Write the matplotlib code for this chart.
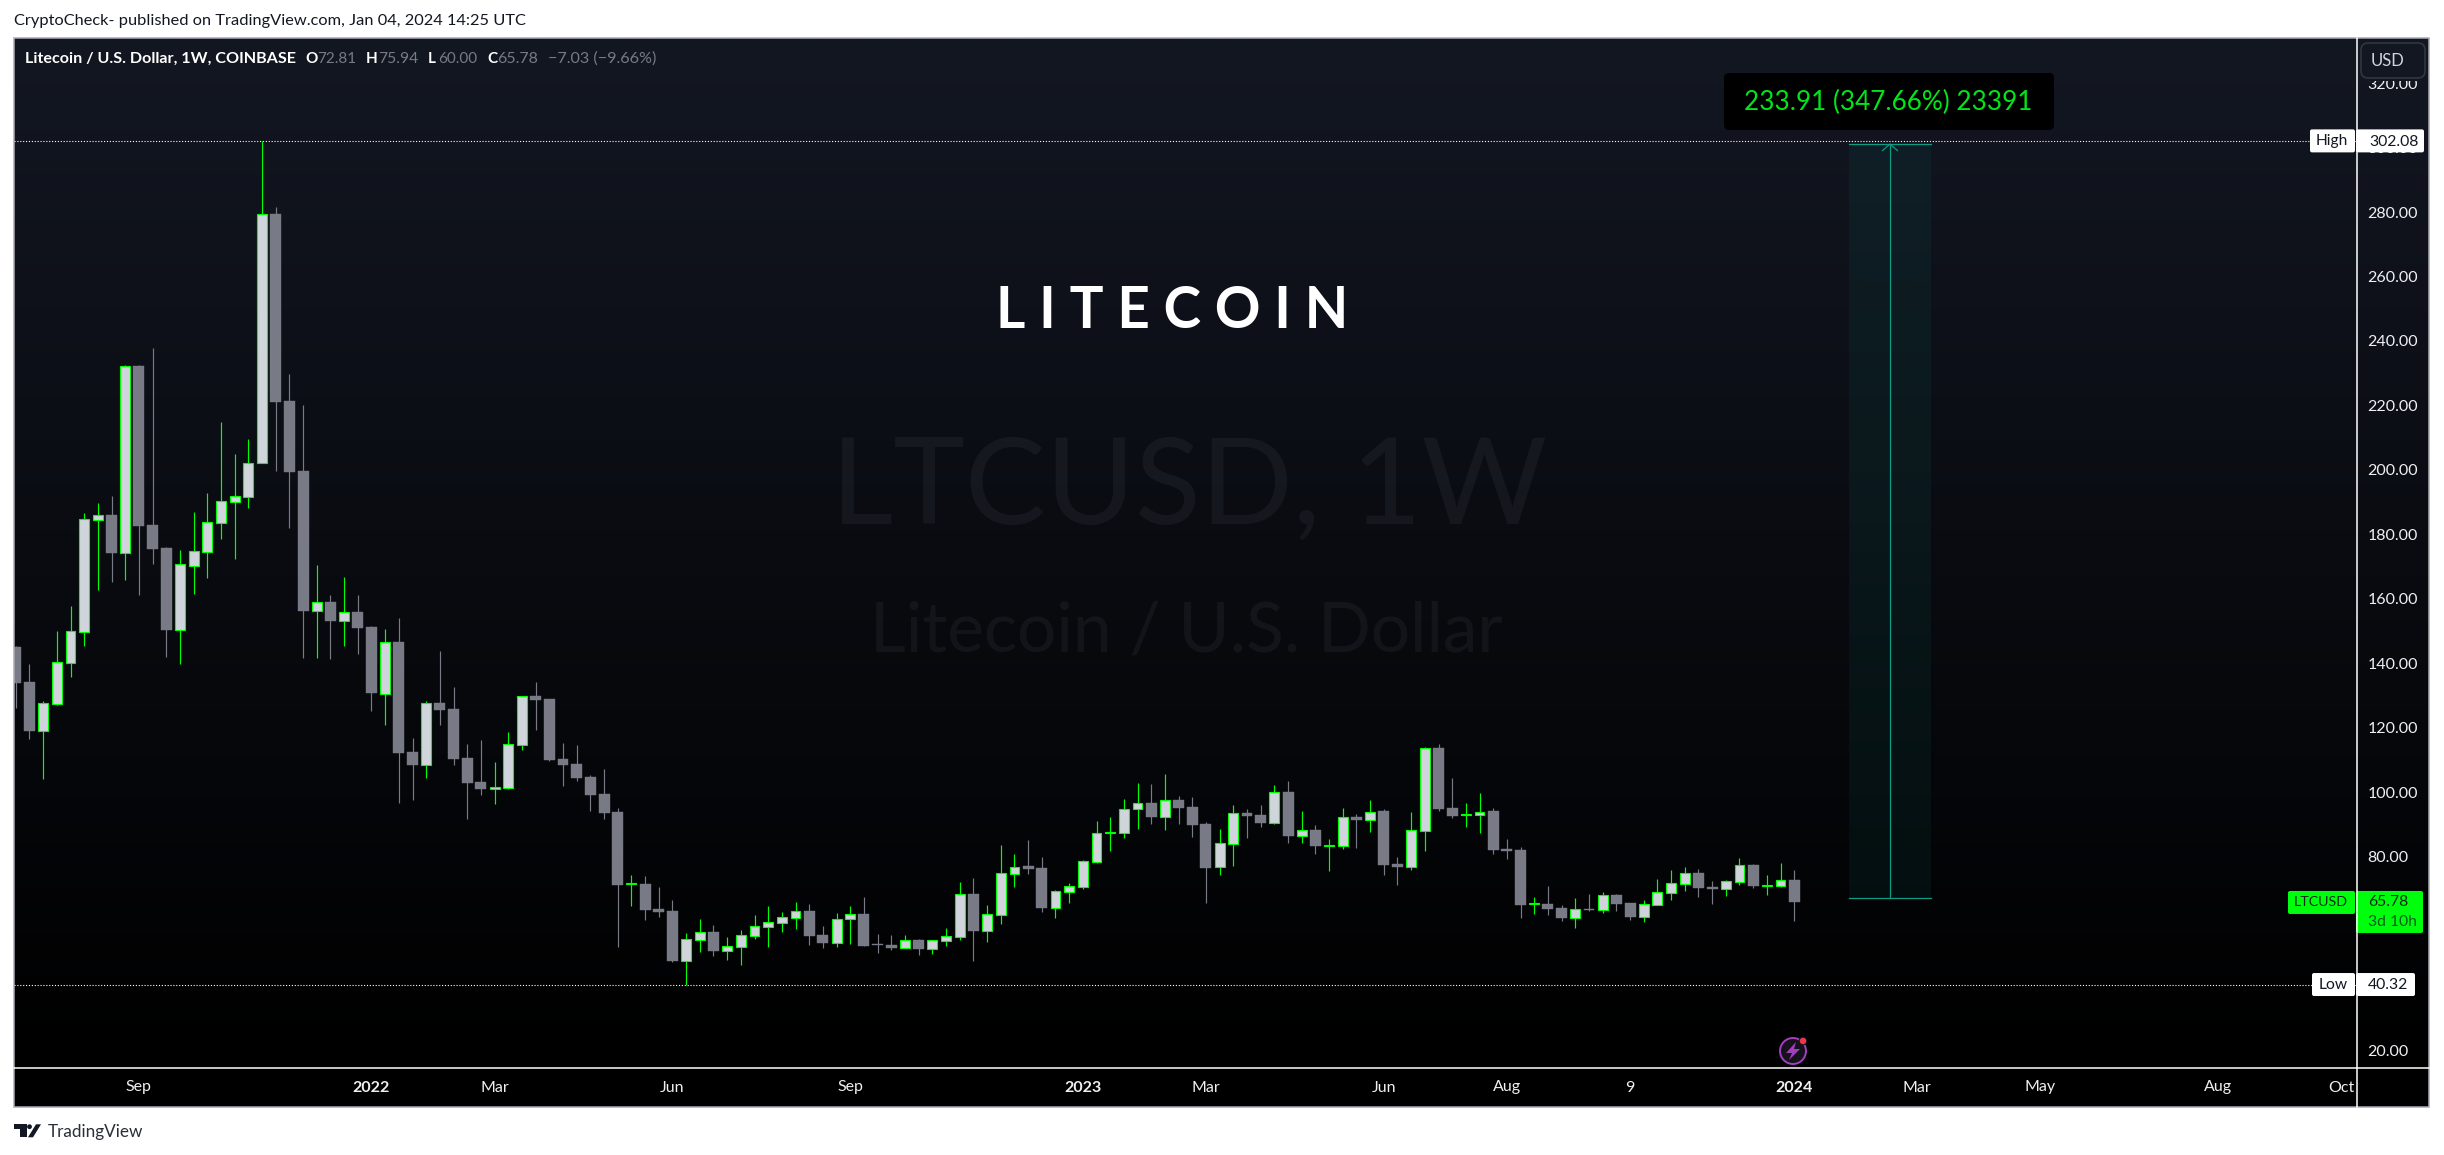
import numpy as np
import matplotlib
matplotlib.use("Agg")
import matplotlib.pyplot as plt
from matplotlib.colors import LinearSegmentedColormap
from matplotlib.patches import FancyBboxPatch, Polygon, Circle, Rectangle

# ---------- data: weekly LTC/USD candles ----------
opens = [145.0,134.2,119.1,127.5,140.2,149.6,184.6,186.0,174.3,232.2,182.9,175.8,150.4,170.3,174.6,183.6,190.1,191.7,202.0,279.3,
         221.4,199.65,156.3,159.0,153.2,155.9,151.2,130.6,146.6,112.5,108.5,127.7,125.8,110.6,103.2,101.1,101.4,114.7,129.8,128.9,
         110.3,108.7,104.7,99.4,93.8,71.5,71.5,63.7,63.1,47.6,54.2,56.6,50.7,52.1,55.5,58.3,59.5,61.1,63.1,55.7,
         53.3,60.7,62.2,52.9,52.6,51.7,54.1,51.4,53.9,55.2,68.4,57.0,62.0,74.7,77.1,76.5,64.2,69.1,70.7,78.4,
         87.4,87.4,94.9,96.6,92.4,97.6,95.4,90.1,76.9,84.0,93.5,92.9,90.5,100.0,86.4,88.3,83.3,83.4,92.3,91.5,
         94.1,77.7,76.9,88.1,113.7,95.1,93.0,93.0,94.1,82.4,82.1,65.4,65.3,64.1,61.0,63.7,63.5,68.1,65.6,61.4,
         65.1,68.8,71.6,74.9,70.6,70.1,72.2,77.4,71.0,71.0,72.81]
highs = [145.2,139.8,128.3,150.0,157.8,186.5,189.7,191.9,232.5,232.5,237.8,176.1,175.1,186.9,192.8,214.9,204.9,209.6,302.08,281.6,
         229.7,220.1,170.5,161.1,166.8,161.2,151.6,150.6,154.0,116.8,128.3,143.8,132.6,114.9,116.2,109.3,118.7,129.7,134.2,128.9,
         115.2,114.6,105.3,107.2,95.1,74.3,74.0,70.6,66.5,56.3,60.6,58.8,55.0,57.2,61.9,64.7,62.8,65.9,65.3,58.5,
         62.5,64.7,67.5,56.0,55.7,55.7,54.4,54.0,57.8,72.1,73.4,65.0,83.6,80.8,85.1,79.9,69.6,71.8,78.9,91.0,
         92.3,97.9,102.8,102.5,105.6,98.8,98.5,90.7,88.6,96.0,94.8,96.0,102.2,103.5,94.1,89.8,85.5,95.1,93.2,97.6,
         94.8,79.9,93.8,114.0,114.9,104.4,96.6,99.7,95.1,85.5,83.0,67.5,70.9,65.0,67.2,68.4,69.0,68.4,65.6,66.5,
         73.0,75.8,76.8,76.2,72.4,72.7,79.6,77.7,74.3,78.0,75.94]
lows = [126.2,116.6,104.2,127.0,135.8,145.4,162.7,165.3,165.9,161.2,170.9,142.0,139.9,161.6,166.6,178.7,172.5,188.3,202.0,199.8,
        182.0,141.7,141.7,141.4,145.5,143.0,125.2,120.8,96.7,97.6,104.4,120.8,108.4,91.7,99.1,96.3,101.1,113.1,119.3,109.7,
        101.9,103.5,94.1,91.7,51.9,64.7,60.3,61.3,47.3,40.32,50.4,49.2,47.9,46.4,54.4,51.9,56.6,57.5,52.6,51.6,
        51.9,52.9,52.3,50.1,51.0,51.7,49.5,49.8,52.3,54.1,47.6,53.5,59.1,70.6,74.6,62.8,61.0,65.6,69.9,78.0,
        81.7,85.8,88.6,90.1,88.3,90.1,86.1,65.6,74.3,77.1,85.8,89.2,90.1,84.2,84.2,80.8,75.5,82.4,82.7,87.6,
        74.3,71.2,75.8,81.7,94.2,92.0,89.2,87.3,80.8,79.3,61.0,62.2,61.9,60.0,57.9,63.1,62.5,63.1,60.3,59.7,
        65.1,66.5,69.3,67.5,65.3,67.8,71.2,70.3,68.1,70.6,60.00]
closes = [133.9,119.1,127.6,140.3,149.9,184.7,185.9,174.2,232.2,182.6,175.5,150.3,170.7,174.7,183.7,190.2,191.8,202.0,279.3,221.2,
          199.4,156.3,158.9,153.1,155.8,150.9,130.8,146.5,112.2,108.4,127.6,125.5,110.3,102.9,101.0,101.5,114.8,129.7,128.6,110.0,
          108.4,104.4,99.1,93.5,71.2,71.7,63.4,62.8,47.6,54.3,56.5,50.7,52.2,55.6,58.4,59.6,61.2,63.0,55.4,53.2,
          60.8,62.1,52.3,52.7,51.6,54.0,51.3,54.0,55.3,68.3,56.9,62.1,74.8,76.9,76.1,64.1,69.2,70.8,78.5,87.2,
          87.6,94.7,96.5,92.3,97.5,95.1,89.8,76.5,84.1,93.4,92.6,90.4,99.9,86.4,88.2,83.3,83.6,92.2,91.4,94.0,
          77.4,76.8,88.2,113.6,94.8,92.6,93.2,94.0,82.1,81.7,65.0,65.6,63.7,61.0,63.6,63.4,68.0,65.3,61.2,65.2,
          68.9,71.7,74.8,70.3,70.0,72.3,77.3,70.9,71.2,72.81,65.78]

price_ticks = list(range(20, 321, 20))
time_tick_pos = [9, 26, 35, 48, 61, 78, 87, 100, 109, 118, 130, 139, 148, 161, 170]
time_tick_lab = ["Sep", "2022", "Mar", "Jun", "Sep", "2023", "Mar", "Jun", "Aug", "9", "2024", "Mar", "May", "Aug", "Oct"]
bold_ticks = {"2022", "2023", "2024"}

all_time_high = 302.08
all_time_low = 40.32
last_close = 65.78
measure_from = 67.17
measure_to = 301.08
measure_left, measure_right = 134, 140

# ---------- layout ----------
W, H = 2444, 1155
FONT = "Lato"
UP_FACE, UP_EDGE, DOWN = "#d1d4dc", "#00ff00", "#787b86"
TEAL = "#0b9d86"

fig = plt.figure(figsize=(W / 100, H / 100), dpi=100, facecolor="white")
plt.rcParams["font.family"] = FONT

def frac_rect(x0, y0, x1, y1):
    return [x0 / W, 1 - y1 / H, (x1 - x0) / W, (y1 - y0) / H]

# background gradient of the panel
bg = fig.add_axes(frac_rect(14, 38, 2429, 1068), zorder=0)
cmap = LinearSegmentedColormap.from_list("tv", ["#131722", "#000000"])
bg.imshow(np.linspace(0, 1, 512)[:, None], aspect="auto", cmap=cmap, vmin=0, vmax=1)
bg.axis("off")
fig.patches.append(Rectangle((14 / W, 1 - 1107 / H), (2429 - 14) / W, 39 / H, transform=fig.transFigure,
                             facecolor="black", edgecolor="none", zorder=0))

# main chart
ax = fig.add_axes(frac_rect(14, 38, 2357, 1068), zorder=2)
ax.patch.set_visible(False)
ax.set_xlim(-0.132, 171.14)
ax.set_ylim(14.42, 334.0)
for s in ax.spines.values():
    s.set_visible(False)

x = np.arange(len(opens))
o, h, l, c = map(np.array, (opens, highs, lows, closes))
up = c >= o

ax.vlines(x[up], l[up], h[up], color=UP_EDGE, lw=0.85, zorder=3)
ax.vlines(x[~up], l[~up], h[~up], color=DOWN, lw=0.85, zorder=3)
ax.bar(x[~up], (o - c)[~up], bottom=c[~up], width=0.8, color=DOWN, edgecolor=DOWN, linewidth=0.3, zorder=4)
ax.bar(x[up], (c - o)[up], bottom=o[up], width=0.72, color=UP_FACE, edgecolor=UP_EDGE, linewidth=0.8, zorder=4)

# high / low dotted lines
for v in (all_time_high, all_time_low):
    ax.axhline(v, color="white", lw=0.8, ls=(0, (1, 1.6)), zorder=2)

# measure tool
ax.add_patch(Rectangle((measure_left, measure_from), measure_right - measure_left, measure_to - measure_from,
                       facecolor=TEAL, alpha=0.08, edgecolor="none", zorder=1))
mid = (measure_left + measure_right) / 2
ax.plot([mid, mid], [measure_from, measure_to], color=TEAL, lw=0.9, zorder=3)
ax.plot([measure_left, measure_right], [measure_to, measure_to], color=TEAL, lw=0.9, zorder=3)
ax.plot([measure_left, measure_right], [measure_from, measure_from], color=TEAL, lw=0.9, zorder=3)
ax.plot([mid - 0.55, mid, mid + 0.55], [measure_to - 2, measure_to, measure_to - 2], color=TEAL, lw=0.9, zorder=3)

# axes ticks
ax.yaxis.tick_right()
ax.set_yticks(price_ticks)
ax.set_yticklabels([f"{v:.2f}" for v in price_ticks], fontsize=11.5, color="#eef0f4", family=FONT)
ax.tick_params(axis="y", length=0, pad=7.5)
ax.set_xticks(time_tick_pos)
ax.set_xticklabels(time_tick_lab, fontsize=11.5, color="#eef0f4", family=FONT)
for t, lab in zip(ax.get_xticklabels(), time_tick_lab):
    if lab in bold_ticks:
        t.set_fontweight("bold")
ax.tick_params(axis="x", length=0, pad=9)

# overlay in pixel coordinates
ov = fig.add_axes([0, 0, 1, 1], zorder=5)
ov.set_xlim(0, W)
ov.set_ylim(H, 0)
ov.axis("off")
ov.patch.set_visible(False)
renderer = fig.canvas.get_renderer()

def y2px(v):
    return ax.transData.transform((0, v))[1] * -1 + H

def txt(xp, yp, s, width=None, size=12, color="white", ha="left", va="center", weight="normal", font=FONT, **kw):
    t = ov.text(xp, yp, s, fontsize=size, color=color, ha=ha, va=va, fontweight=weight, family=font, **kw)
    if width:
        e = t.get_window_extent(renderer)
        t.set_fontsize(size * width / e.width)
    return t

def box(x0, y0, x1, y1, fc, ec="none", r=3, lw=0):
    p = FancyBboxPatch((x0, y0), x1 - x0, y1 - y0, boxstyle=f"round,pad=0,rounding_size={r}",
                       facecolor=fc, edgecolor=ec, linewidth=lw, mutation_aspect=1)
    ov.add_patch(p)
    return p

# panel frame and separators
ov.add_patch(Rectangle((14, 38), 2429 - 14, 1107 - 38, fill=False, edgecolor="#a9acb4", lw=1.1))
ov.plot([2357, 2357], [38, 1107], color="white", lw=1.1)
ov.plot([14, 2429], [1068, 1068], color="white", lw=1.1)

# top header & legend
txt(14, 21, "CryptoCheck- published on TradingView.com, Jan 04, 2024 14:25 UTC", width=511, color="#131722")
txt(25, 59, "Litecoin / U.S. Dollar, 1W, COINBASE", width=270, color="#ffffff", weight="bold")
for xp, s, w, col, wt in [(305, "O", None, "#ffffff", "bold"), (317, "72.81", 39, DOWN, "normal"),
                          (366, "H", None, "#ffffff", "bold"), (378, "75.94", 40, DOWN, "normal"),
                          (428, "L", None, "#ffffff", "bold"), (438, "60.00", 39, DOWN, "normal"),
                          (487, "C", None, "#ffffff", "bold"), (497, "65.78", 41, DOWN, "normal"),
                          (548, "\u22127.03 (\u22129.66%)", 108, DOWN, "normal")]:
    txt(xp, 59, s, width=w, size=11, color=col, weight=wt)

# titles and watermarks
txt(1172, 312, "L I T E C O I N", width=352, ha="center", weight="bold", color="white")
wm = "#7a7d88"
txt(1189, 490, "LTCUSD, 1W", width=712, ha="center", color=wm, alpha=0.1)
txt(1186, 632, "Litecoin / U.S. Dollar", width=632, ha="center", color=wm, alpha=0.1)

# measure label
box(1724, 73, 2054, 130, "black", r=5)
txt(1888, 102, "233.91 (347.66%) 23391", width=286, ha="center", color="#00e61a")

# USD button (it hides the top of the 320.00 label)
ov.add_patch(Rectangle((2358, 39), 70, 42, facecolor="#121620", edgecolor="none"))
box(2361, 43, 2425, 78, "#131722", ec="#343844", lw=1.1, r=7)
txt(2388, 61, "USD", size=12, ha="center", color="#d1d4dc")

# price scale labels
yh = y2px(all_time_high)
box(2310, yh - 11.5, 2355, yh + 11.5, "white", r=2)
box(2356, yh - 11.5, 2424, yh + 11.5, "white", r=2)
txt(2332, yh, "High", width=32, ha="center", color="#131722")
txt(2369, yh + 1, f"{all_time_high:.2f}", width=49, color="#131722")

yl = y2px(all_time_low)
box(2312, yl - 11.5, 2355, yl + 11.5, "white", r=2)
box(2356, yl - 11.5, 2415, yl + 11.5, "white", r=2)
txt(2333, yl, "Low", width=29, ha="center", color="#131722")
txt(2368, yl, f"{all_time_low:.2f}", width=40, color="#131722")

yc = y2px(last_close)
box(2288, yc - 11.5, 2355, yc + 11.5, "#00ff0d", r=2)
box(2356, yc - 11.5, 2423, yc + 30.5, "#00ff0d", r=2)
txt(2321, yc, "LTCUSD", width=54, ha="center", color="#0b2a10")
txt(2368, yc, f"{last_close:.2f}", width=40, color="#0b2a10")
txt(2368, yc + 19.5, "3d 10h", width=49, color="#0a5c18")

# events icon
ov.add_patch(Circle((1793, 1051), 13, facecolor="#16121c", edgecolor="#a23fc0", lw=1.4))
ov.add_patch(Polygon([(1796, 1042), (1786, 1053), (1792, 1053), (1789, 1060), (1800, 1049), (1794, 1049)],
                     closed=True, facecolor="#a23fc0", edgecolor="none"))
ov.add_patch(Circle((1803, 1041), 4.4, facecolor="#131722", edgecolor="none"))
ov.add_patch(Circle((1803, 1041), 3.2, facecolor="#f23645", edgecolor="none"))

# TradingView logo
LOGO = "#131722"
ov.add_patch(Polygon([(14, 1124.3), (26.5, 1124.3), (26.5, 1137.3), (20, 1137.3), (20, 1129), (14, 1129)],
                     closed=True, facecolor=LOGO, edgecolor="none"))
ov.add_patch(Circle((29.5, 1126.7), 2.4, facecolor=LOGO, edgecolor="none"))
ov.add_patch(Polygon([(36, 1124.3), (41, 1124.3), (33, 1137.3), (28, 1137.3)],
                     closed=True, facecolor=LOGO, edgecolor="none"))
txt(47.5, 1132.5, "TradingView", width=95, color="#2a2e39")

fig.savefig("out.png", dpi=100, facecolor="white")
